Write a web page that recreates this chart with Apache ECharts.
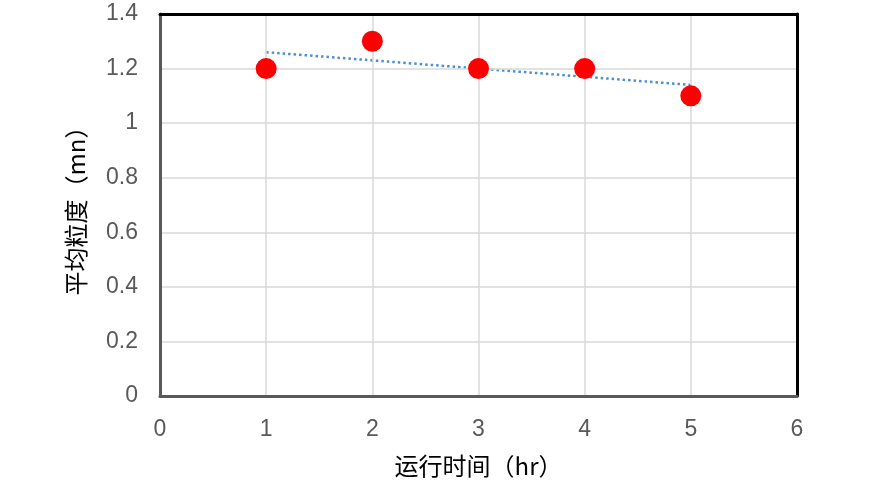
<!DOCTYPE html>
<html><head><meta charset="utf-8">
<script src="https://cdn.jsdelivr.net/npm/echarts@6/dist/echarts.min.js"></script>
<style>html,body{margin:0;padding:0;background:#fff}#c{width:870px;height:483px}</style>
</head><body><div id="c"></div>
<script>
const runTime = [1, 2, 3, 4, 5];
const avgSize = [1.2, 1.3, 1.2, 1.2, 1.1];
const trendX = [1, 5];
const trendY = [1.26, 1.14];
const xName = '运行时间（hr）';
const yName = '平均粒度（mn）';

const nameFont = { fontFamily: 'Noto Sans CJK SC', fontSize: 24, color: '#000' };
const tickFont = { fontFamily: 'Liberation Sans', fontSize: 23, color: '#595959' };
const chart = echarts.init(document.getElementById('c'));
chart.setOption({
  animation: false,
  grid: { left: 160, right: 73, top: 14, bottom: 87 },
  xAxis: [{
    type: 'value', min: 0, max: 6, interval: 1,
    name: xName, nameLocation: 'middle', nameGap: 58,
    nameTextStyle: nameFont,
    axisLine: { show: true, onZero: false, lineStyle: { color: '#595959', width: 3 } },
    axisTick: { show: false },
    splitLine: { show: true, lineStyle: { color: '#d9d9d9', width: 1.5 } },
    axisLabel: Object.assign({ margin: 22 }, tickFont), z: 3
  }, {
    type: 'value', min: 0, max: 6, interval: 1, position: 'top',
    axisLine: { show: true, onZero: false, lineStyle: { color: '#000', width: 3 } },
    axisTick: { show: false }, axisLabel: { show: false }, splitLine: { show: false }, z: 3
  }],
  yAxis: [{
    type: 'value', min: 0, max: 1.4, interval: 0.2,
    name: yName, nameLocation: 'middle', nameGap: 72, nameRotate: 90,
    nameTextStyle: nameFont,
    axisLine: { show: true, onZero: false, lineStyle: { color: '#595959', width: 3 } },
    axisTick: { show: false },
    splitLine: { show: true, lineStyle: { color: '#d9d9d9', width: 1.5 } },
    axisLabel: Object.assign({ margin: 22, formatter: v => String(Math.round(v * 10) / 10) }, tickFont), z: 3
  }, {
    type: 'value', min: 0, max: 1.4, interval: 0.2, position: 'right',
    axisLine: { show: true, onZero: false, lineStyle: { color: '#000', width: 3 } },
    axisTick: { show: false }, axisLabel: { show: false }, splitLine: { show: false }, z: 3
  }],
  series: [
    {
      type: 'line', data: trendX.map((x, i) => [x, trendY[i]]),
      symbol: 'none', lineStyle: { color: '#4A8FD3', width: 2.5, type: [2.5, 3] }, z: 2
    },
    {
      type: 'scatter', data: runTime.map((x, i) => [x, avgSize[i]]),
      symbolSize: 21, itemStyle: { color: '#FF0000', opacity: 1 }, z: 3
    }
  ]
});
</script></body></html>
